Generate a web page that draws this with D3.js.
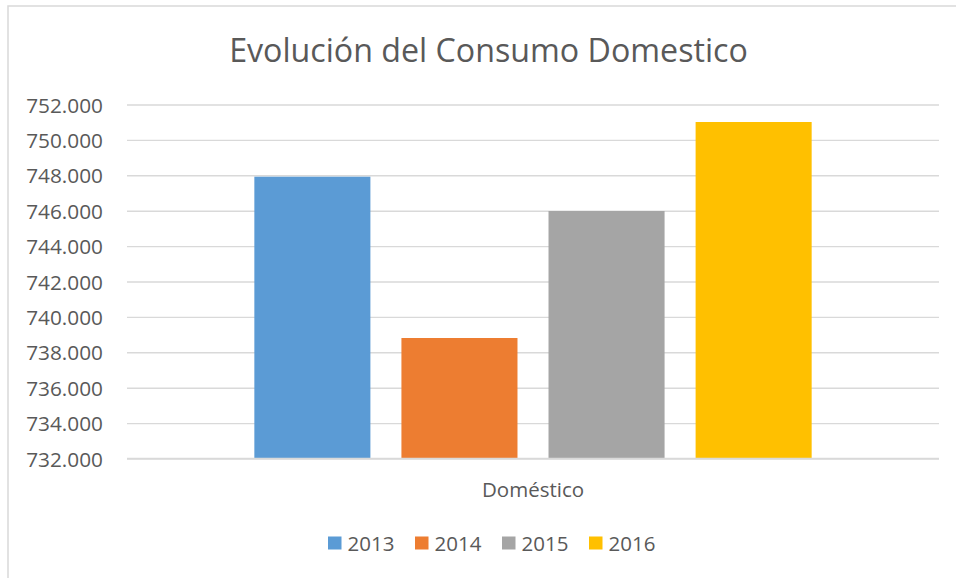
<!DOCTYPE html>
<html>
<head>
<meta charset="utf-8">
<script src="https://cdn.jsdelivr.net/npm/d3@7"></script>
<style>
  html, body { margin: 0; padding: 0; background: #ffffff; }
  svg { display: block; }
  text { font-family: "Open Sans", "Noto Sans", sans-serif; fill: #595959; }
</style>
</head>
<body>
<div id="chart"></div>
<script>
// ---- data ----
const title = "Evolución del Consumo Domestico";
const categories = ["Doméstico"];
const seriesNames = ["2013", "2014", "2015", "2016"];
const seriesValues = [747921, 738808, 745983, 751011];
const seriesColors = ["#5B9BD5", "#ED7D31", "#A5A5A5", "#FFC000"];
const yDomain = [732000, 752000];
const yTicks = [732000, 734000, 736000, 738000, 740000, 742000, 744000, 746000, 748000, 750000, 752000];

// ---- layout ----
const W = 956, H = 578;
const plot = { left: 127, right: 939, top: 104.5, bottom: 458.5 };

const svg = d3.select("#chart").append("svg").attr("width", W).attr("height", H);

// chart border (extends past the photographed area on right/bottom)
svg.append("rect")
  .attr("x", 8).attr("y", 6).attr("width", W + 20).attr("height", H + 20)
  .attr("fill", "#ffffff").attr("stroke", "#d9d9d9").attr("stroke-width", 1.5);

const locale = d3.formatLocale({ decimal: ",", thousands: ".", grouping: [3], currency: ["", "€"] });
const fmt = locale.format(",.0f");

const y = d3.scaleLinear().domain(yDomain).range([plot.bottom, plot.top]);
const x0 = d3.scaleBand().domain(categories).range([plot.left, plot.right]).paddingOuter(0.2285).paddingInner(0);
const x1 = d3.scaleBand().domain(seriesNames).range([0, x0.bandwidth()]).paddingInner(0.211).paddingOuter(0);

// gridlines
const yAxis = d3.axisLeft(y).tickValues(yTicks).tickSize(-(plot.right - plot.left)).tickFormat(fmt).tickPadding(24);
const gy = svg.append("g").attr("transform", `translate(${plot.left},0)`).call(yAxis);
gy.select(".domain").remove();
gy.selectAll(".tick line").attr("stroke", "#d9d9d9").attr("stroke-width", 1.4);
gy.selectAll(".tick text").attr("font-size", 20.8).style("fill", "#595959")
  .attr("font-family", "'Open Sans', sans-serif").attr("dy", "0.36em");

// bars
const gBars = svg.append("g");
categories.forEach((c, ci) => {
  seriesNames.forEach((s, si) => {
    gBars.append("rect")
      .attr("x", x0(c) + x1(s))
      .attr("width", x1.bandwidth())
      .attr("y", y(seriesValues[si]))
      .attr("height", y(yDomain[0]) - y(seriesValues[si]))
      .attr("fill", seriesColors[si]);
  });
});

// category axis line
const xAxis = d3.axisBottom(x0).tickSize(0).tickPadding(0);
const gx = svg.append("g").attr("transform", `translate(0,${plot.bottom})`).call(xAxis);
gx.select(".domain").attr("stroke", "#d9d9d9").attr("stroke-width", 1.4)
  .attr("d", `M${plot.left},0H${plot.right}`);
gx.selectAll(".tick text").attr("font-size", 20.5).attr("y", 38).attr("dy", 0)
  .style("fill", "#595959").attr("font-family", "'Open Sans', sans-serif");

// title
const t = svg.append("text").text(title)
  .attr("x", 488.5).attr("y", 62).attr("text-anchor", "middle")
  .attr("font-size", 33);
const tw = t.node().getComputedTextLength();
t.attr("font-size", 33 * 519 / tw);

// legend
const legendX = [328, 415, 502, 589];
const lg = svg.append("g");
seriesNames.forEach((s, i) => {
  lg.append("rect").attr("x", legendX[i]).attr("y", 536.5).attr("width", 13.5).attr("height", 13)
    .attr("fill", seriesColors[i]);
  lg.append("text").attr("x", legendX[i] + 19.5).attr("y", 550.5).attr("font-size", 20.5).text(s);
});
</script>
</body>
</html>
